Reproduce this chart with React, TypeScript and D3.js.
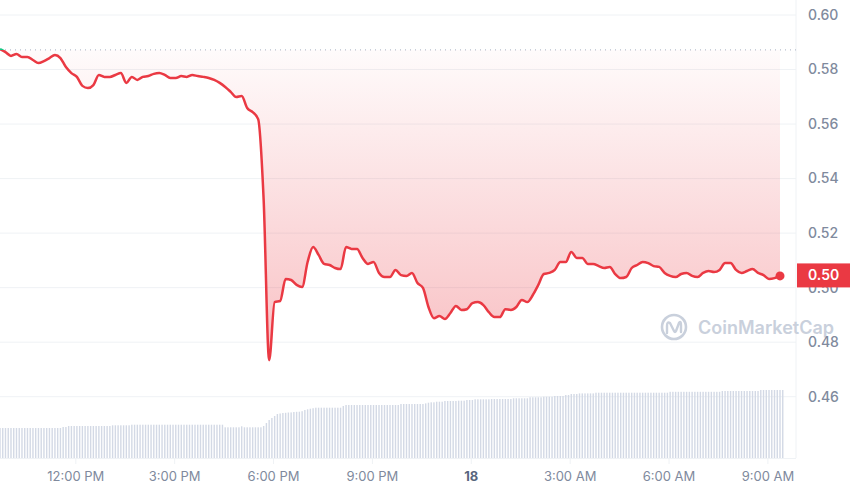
import React from 'react';
import * as d3 from 'd3';

// ---- data ----
const START = new Date(2024, 11, 17, 9, 42);
const PRICE_STEP_MIN = 10;
const VOLUME_STEP_MIN = 5;
const BASELINE = 0.5872;
const LAST_LABEL = '0.50';

const prices: number[] = [
  0.5875, 0.5864, 0.5850, 0.5857, 0.5846, 0.5846, 0.5835, 0.5824, 0.5831, 0.5842,
  0.5853, 0.5842, 0.5809, 0.5787, 0.5773, 0.5740, 0.5732, 0.5743, 0.5780, 0.5773,
  0.5773, 0.5780, 0.5787, 0.5751, 0.5773, 0.5762, 0.5773, 0.5776, 0.5784, 0.5787,
  0.5780, 0.5769, 0.5769, 0.5776, 0.5773, 0.5780, 0.5776, 0.5773, 0.5769, 0.5762,
  0.5751, 0.5736, 0.5718, 0.5699, 0.5703, 0.5659, 0.5644, 0.5618, 0.5321, 0.4734,
  0.4947, 0.4951, 0.5032, 0.5028, 0.5010, 0.5002, 0.5094, 0.5149, 0.5120, 0.5087,
  0.5083, 0.5072, 0.5068, 0.5149, 0.5142, 0.5142, 0.5109, 0.5087, 0.5094, 0.5054,
  0.5039, 0.5039, 0.5065, 0.5046, 0.5043, 0.5054, 0.5017, 0.4999, 0.4929, 0.4888,
  0.4896, 0.4885, 0.4907, 0.4933, 0.4918, 0.4921, 0.4943, 0.4947, 0.4936, 0.4910,
  0.4892, 0.4892, 0.4921, 0.4918, 0.4929, 0.4955, 0.4947, 0.4973, 0.5010, 0.5050,
  0.5054, 0.5065, 0.5094, 0.5094, 0.5131, 0.5109, 0.5109, 0.5087, 0.5087, 0.5079,
  0.5072, 0.5076, 0.5050, 0.5035, 0.5039, 0.5072, 0.5083, 0.5094, 0.5090, 0.5079,
  0.5076, 0.5054, 0.5043, 0.5039, 0.5050, 0.5054, 0.5043, 0.5039, 0.5054, 0.5061,
  0.5057, 0.5065, 0.5090, 0.5090, 0.5065, 0.5054, 0.5061, 0.5068, 0.5054, 0.5046,
  0.5032, 0.5035, 0.5043,
];

const volumes: number[] = [
  30, 30, 30, 30, 30, 30, 30, 30, 30, 30, 30, 30, 30, 30, 30, 30, 30, 30, 30, 30,
  30, 30, 30, 31, 31, 32, 32, 32, 32, 32, 32, 32, 32, 32, 32, 32, 32, 32, 32, 32,
  32, 32.7, 32.7, 32.7, 32.7, 32.7, 32.7, 32.7, 33.3, 33.3, 33.3, 33.3, 33.3, 33.3, 33.3, 33.3,
  33.3, 33.3, 33.3, 33.3, 33.3, 33.3, 33.3, 33.3, 33.3, 33.3, 33.3, 33.3, 33.3, 33.3, 33.3, 33.3,
  33.3, 33.3, 33.3, 33.3, 33.3, 33.3, 33.3, 33.3, 33.3, 33.3, 30.7, 30.7, 30.7, 30.7, 30.7, 30.7,
  31.7, 30.7, 30.7, 30.7, 30.7, 30.7, 30.7, 30.7, 32, 35, 38, 40, 42, 44, 44.5, 45,
  45.2, 45.5, 45.6, 46, 46.2, 46.3, 46.8, 48, 48.7, 49.3, 49.8, 50.3, 50.3, 50.3, 50.3, 50.3,
  50.3, 50.3, 50.3, 50.3, 50.3, 52, 53, 53, 53, 53, 53, 53, 53, 53, 53, 53,
  53, 53, 53, 53, 53, 53, 53, 53, 53, 53, 54, 54, 54, 54, 54, 54, 54, 54,
  54, 54.6, 55.3, 55.7, 55.7, 56.3, 56.3, 56.3, 57, 57, 57, 57, 57, 57.3, 57.3, 57.3,
  58, 58, 58, 58.7, 58.7, 58.7, 58.7, 58.7, 58.7, 59, 59, 59, 59, 59, 59, 59,
  59, 59.7, 59.7, 59.7, 59.7, 59.7, 59.7, 60.7, 60.7, 60.7, 60.7, 60.7, 61.3, 61.3, 61.3, 61.3,
  62, 62, 62, 62, 63, 63, 64, 64, 64, 64.6, 64.6, 64.6, 64.6, 64.6, 64.6, 65.3,
  65.3, 65.3, 65.3, 65.3, 65.3, 65.3, 65.3, 65.3, 65.3, 65.3, 65.3, 65.3, 65.3, 65.3, 65.3, 65.3,
  65.3, 65.3, 65.3, 65.3, 65.3, 65.3, 65.3, 65.3, 65.3, 65.3, 66.2, 66.2, 66.2, 66.2, 66.2, 66.2,
  66.2, 66.2, 66.2, 66.2, 66.2, 66.2, 66.2, 66.2, 66.2, 66.2, 66.2, 66.2, 66.2, 67, 67, 67,
  67, 67, 67, 67, 67, 67, 67, 67, 67, 67, 67, 68, 68, 68, 68, 68, 68, 68,
  68, 68,
];

const yTicks: number[] = [0.46, 0.48, 0.5, 0.52, 0.54, 0.56, 0.58, 0.6];

// ---- layout ----
const W = 850;
const H = 491;
const PLOT_RIGHT = 796;
const DATA_RIGHT = 780;
const VOL_BOTTOM = 458;

const RED = '#ea3943';
const GREEN = '#16c784';
const GRID = '#eff2f5';
const LABEL = '#808a9d';

export default function App() {
  const priceData = prices.map((v, i) => ({ t: d3.timeMinute.offset(START, i * PRICE_STEP_MIN), v }));
  const volData = volumes.map((v, i) => ({ t: d3.timeMinute.offset(START, i * VOLUME_STEP_MIN), v }));
  const end = priceData[priceData.length - 1].t;

  const x = d3.scaleTime().domain([START, end]).range([0, DATA_RIGHT]);
  const y = d3.scaleLinear().domain([0.46, 0.6]).range([396.7, 15]);
  const yVol = d3.scaleLinear().domain([0, 100]).range([VOL_BOTTOM, VOL_BOTTOM - 100]);

  const line = d3.line<{ t: Date; v: number }>().x(d => x(d.t)).y(d => y(d.v)).curve(d3.curveMonotoneX);
  const area = d3
    .area<{ t: Date; v: number }>()
    .x(d => x(d.t))
    .y0(y(BASELINE))
    .y1(d => y(d.v))
    .curve(d3.curveMonotoneX);

  const xTicks = d3.timeHour.every(3)!.range(d3.timeMinute.offset(START, 1), d3.timeMinute.offset(end, 60));
  const fmtHour = d3.timeFormat('%-I:%M %p');
  const fmtDay = d3.timeFormat('%-d');

  const baseY = y(BASELINE);
  const last = priceData[priceData.length - 1];
  const lastY = y(last.v);

  return (
    <svg
      width={W}
      height={H}
      style={{ position: 'absolute', left: 0, top: 0, fontFamily: 'Inter, "Noto Sans", sans-serif' }}
    >
      <defs>
        <linearGradient id="fillGrad" gradientUnits="userSpaceOnUse" x1="0" y1={baseY} x2="0" y2={y(0.4734)}>
          <stop offset="0%" stopColor={RED} stopOpacity={0.02} />
          <stop offset="100%" stopColor={RED} stopOpacity={0.32} />
        </linearGradient>
        <clipPath id="below">
          <rect x={0} y={baseY} width={W} height={H} />
        </clipPath>
        <clipPath id="above">
          <rect x={0} y={0} width={W} height={baseY} />
        </clipPath>
      </defs>

      {/* grid */}
      {yTicks.map(t => (
        <line key={t} x1={0} x2={PLOT_RIGHT} y1={y(t)} y2={y(t)} stroke={GRID} strokeWidth={1} />
      ))}
      <line x1={PLOT_RIGHT} x2={PLOT_RIGHT} y1={0} y2={VOL_BOTTOM} stroke={GRID} strokeWidth={1} />
      <line x1={0} x2={PLOT_RIGHT} y1={VOL_BOTTOM + 0.5} y2={VOL_BOTTOM + 0.5} stroke={GRID} strokeWidth={1} />

      {/* volume bars */}
      {volData.map((d, i) => (
        <rect
          key={i}
          x={x(d.t) - 0.7}
          y={yVol(d.v)}
          width={1.4}
          height={VOL_BOTTOM - yVol(d.v)}
          fill="#d3d9e5"
        />
      ))}

      {/* baseline */}
      <line
        x1={0}
        x2={PLOT_RIGHT}
        y1={baseY}
        y2={baseY}
        stroke="#a6b0c3"
        strokeWidth={1}
        strokeDasharray="1 4"
      />

      {/* area + line */}
      <path d={area(priceData) || ''} fill="url(#fillGrad)" clipPath="url(#below)" />
      <path d={line(priceData) || ''} fill="none" stroke={RED} strokeWidth={2.5} strokeLinejoin="round" clipPath="url(#below)" />
      <path d={line(priceData) || ''} fill="none" stroke={GREEN} strokeWidth={2.5} strokeLinejoin="round" clipPath="url(#above)" />
      <circle cx={x(last.t)} cy={lastY} r={4.5} fill={RED} />

      {/* watermark */}
      <g>
        <circle cx={674} cy={327} r={12} fill="none" stroke="#c9d0dc" strokeWidth={2.6} />
        <path
          d="M667 333 L667 326 Q667 321 670 323 L674 331 Q675 333 676 331 L679 323 Q681 320 681 325 L681 332"
          fill="none"
          stroke="#c9d0dc"
          strokeWidth={2.4}
          strokeLinecap="round"
          strokeLinejoin="round"
        />
        <text x={698} y={334} fontSize={18} fontWeight={600} fill="#c9d0dc">
          CoinMarketCap
        </text>
      </g>

      {/* y axis labels */}
      {yTicks.map(t => (
        <text key={t} x={808} y={y(t)} dy="0.35em" fontSize={14} fontWeight={500} fill={LABEL}>
          {t.toFixed(2)}
        </text>
      ))}

      {/* current price tag */}
      <rect x={797} y={lastY - 12.5} width={53} height={24} fill={RED} />
      <text x={808} y={lastY - 0.5} dy="0.35em" fontSize={14} fontWeight={600} fill="#ffffff">
        {LAST_LABEL}
      </text>

      {/* x axis */}
      {xTicks.map(t => {
        const isDay = t.getHours() === 0;
        return (
          <g key={t.getTime()}>
            <line x1={x(t)} x2={x(t)} y1={VOL_BOTTOM + 1} y2={VOL_BOTTOM + 6} stroke={GRID} strokeWidth={1} />
            <text
              x={x(t)}
              y={476}
              dy="0.35em"
              textAnchor="middle"
              fontSize={13}
              fontWeight={isDay ? 700 : 400}
              fill={isDay ? '#58667e' : LABEL}
            >
              {isDay ? fmtDay(t) : fmtHour(t)}
            </text>
          </g>
        );
      })}
    </svg>
  );
}
